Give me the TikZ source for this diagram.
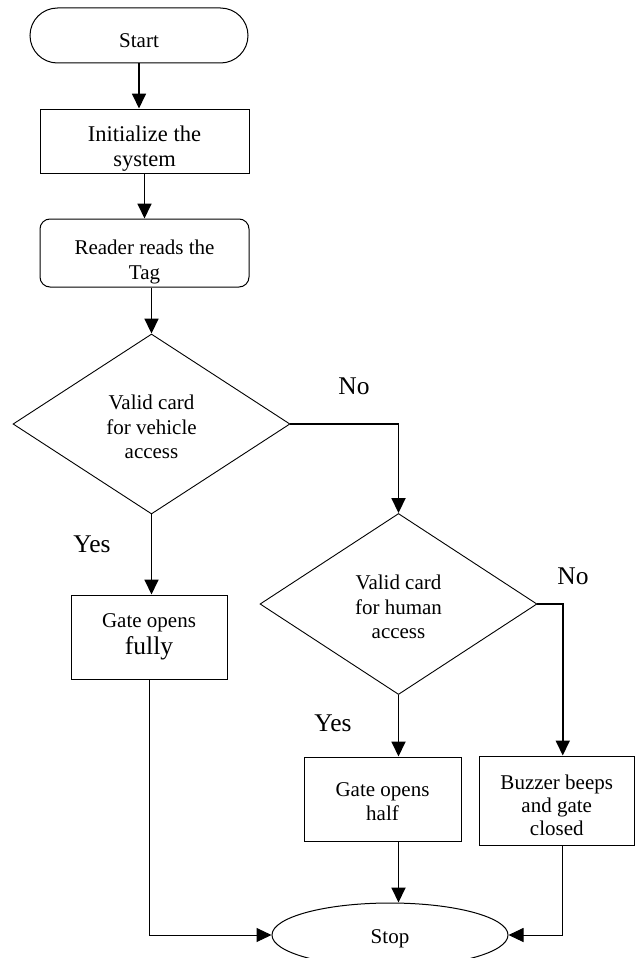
\documentclass[tikz,border=0pt]{standalone}
\usepackage{fontspec}
\setmainfont{Liberation Serif}
\usetikzlibrary{arrows.meta,shapes.geometric}

\begin{document}
\begin{tikzpicture}[x=1pt,y=-1pt,font=\fontsize{21}{24.5}\selectfont,
  box/.style={draw,line width=1pt,align=center,inner sep=0pt},
  term/.style={draw,line width=1pt,align=center,inner sep=0pt},
  cond/.style={draw,diamond,line width=0.9pt,align=center,inner sep=0pt,text height=69.5pt},
  flow/.style={-{Triangle[length=15pt,width=14pt]},line width=1.8pt},
  thinflow/.style={-{Triangle[length=15pt,width=14pt]},line width=1pt},
  lbl/.style={font=\fontsize{25.5}{30}\selectfont}]
  \useasboundingbox (0,0) rectangle (635,958);
  % terminals and steps
  \node[term,rounded corners=27.5pt,minimum width=218pt,minimum height=55pt,text height=25pt] (start) at (139,35.5) {Start};
  \node[box,minimum width=209pt,minimum height=64pt,text height=56.5pt,font=\fontsize{22.5}{25}\selectfont] (init) at (144.5,141) {Initialize the\\system};
  \node[box,rounded corners=10pt,minimum width=209pt,minimum height=68pt,text height=57pt] (reader) at (144.5,253) {Reader reads the\\Tag};
  \node[cond,minimum width=277pt,minimum height=180pt] (vcheck) at (151.5,424) {Valid card\\for vehicle\\access};
  \node[cond,minimum width=277pt,minimum height=181pt] (hcheck) at (398.5,604) {Valid card\\for human\\access};
  \node[box,minimum width=156pt,minimum height=84pt] (full) at (149,637) {Gate opens\\[2pt]{\fontsize{25.5}{28}\selectfont fully}};
  \node[box,minimum width=157pt,minimum height=84pt,text height=44pt] (half) at (382.5,799) {Gate opens\\half};
  \node[box,minimum width=155.5pt,minimum height=89pt,text height=70pt,font=\fontsize{21}{23}\selectfont] (buzz) at (556.75,800.5) {Buzzer beeps\\and gate\\closed};
  \node[term,ellipse,minimum width=236pt,minimum height=64pt,text height=22pt] (stop) at (390,935) {Stop};
  % branch labels
  \node[lbl] (no1) at (354,386) {No};
  \node[lbl] (no2) at (573,576) {No};
  \node[lbl] (yes1) at (92,544) {Yes};
  \node[lbl] (yes2) at (333,723) {Yes};
  % connectors
  \draw[flow] (start.south) -- (start.south |- init.north);
  \draw[flow] (init) -- (reader);
  \draw[flow] (reader.south -| vcheck.north) -- (vcheck.north);
  \draw[flow] (vcheck.south) -- (vcheck.south |- full.north);
  \draw[flow] (vcheck.east) -| (hcheck.north);
  \draw[flow] (hcheck.south) -- (hcheck.south |- half.north);
  \draw[flow] (hcheck.east) -| ([xshift=6pt]buzz.north);
  \draw[thinflow] (full.south) |- (stop.west);
  \draw[flow] (hcheck.south |- half.south) -- (hcheck.south |- stop.north);
  \draw[thinflow] ([xshift=6pt]buzz.south) |- (stop.east);
\end{tikzpicture}
\end{document}
